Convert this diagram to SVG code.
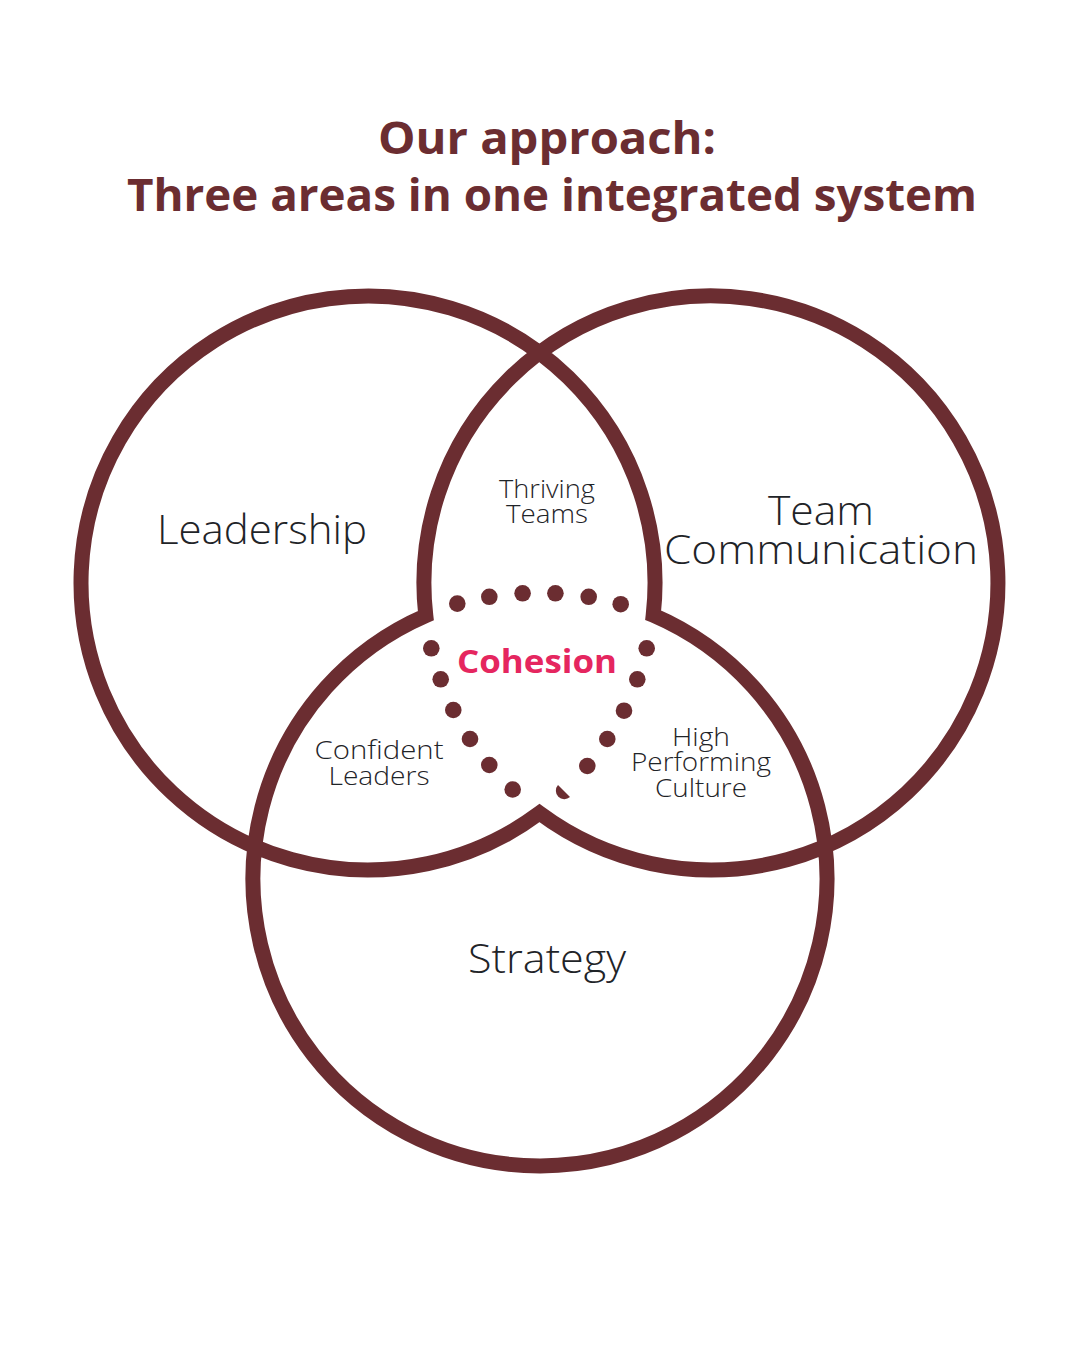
<svg xmlns="http://www.w3.org/2000/svg" width="1080" height="1350" viewBox="0 0 1080 1350">
  <style>
    .title { font-family: "Open Sans", "DejaVu Sans", sans-serif; font-weight: 700; font-size: 45px; fill: #6B2D31; }
    .big { font-family: "Open Sans", "DejaVu Sans", sans-serif; font-weight: 300; font-size: 40px; fill: #1F2428; }
    .small { font-family: "Open Sans", "DejaVu Sans", sans-serif; font-weight: 300; font-size: 26px; fill: #1F2428; }
    .core { font-family: "Open Sans", "DejaVu Sans", sans-serif; font-weight: 700; font-size: 33px; fill: #E5265F; }
    .ring { fill: none; stroke: #6B2D31; stroke-width: 15; stroke-linejoin: miter; }
    .dot { fill: #6B2D31; }
  </style>
  <rect width="1080" height="1350" fill="#FFFFFF"/>

  <g id="title">
    <text class="title" x="547" y="154" text-anchor="middle" textLength="338" lengthAdjust="spacingAndGlyphs">Our approach:</text>
    <text class="title" x="552" y="211" text-anchor="middle" textLength="850" lengthAdjust="spacingAndGlyphs">Three areas in one integrated system</text>
  </g>

  <g id="connectors">
    <path class="ring" d="M 539.5 813.1 A 287 287 0 1 1 653.2 615.2 A 287 287 0 1 1 425.8 615.6 A 287 287 0 1 1 539.5 813.1 Z"/>
  </g>

  <g id="node-leadership">
    <text class="big" x="262" y="544" text-anchor="middle" textLength="210" lengthAdjust="spacingAndGlyphs">Leadership</text>
  </g>
  <g id="node-team-communication">
    <text class="big" x="821" y="525" text-anchor="middle" textLength="106" lengthAdjust="spacingAndGlyphs">Team</text>
    <text class="big" x="821" y="564" text-anchor="middle" textLength="314" lengthAdjust="spacingAndGlyphs">Communication</text>
  </g>
  <g id="node-strategy">
    <text class="big" x="547" y="973" text-anchor="middle" textLength="158" lengthAdjust="spacingAndGlyphs">Strategy</text>
  </g>
  <g id="node-thriving-teams">
    <text class="small" x="547" y="498" text-anchor="middle" textLength="96" lengthAdjust="spacingAndGlyphs">Thriving</text>
    <text class="small" x="547" y="523" text-anchor="middle" textLength="82" lengthAdjust="spacingAndGlyphs">Teams</text>
  </g>
  <g id="node-confident-leaders">
    <text class="small" x="379" y="759" text-anchor="middle" textLength="129" lengthAdjust="spacingAndGlyphs">Confident</text>
    <text class="small" x="379" y="785" text-anchor="middle" textLength="101" lengthAdjust="spacingAndGlyphs">Leaders</text>
  </g>
  <g id="node-high-performing-culture">
    <text class="small" x="701" y="746" text-anchor="middle" textLength="58" lengthAdjust="spacingAndGlyphs">High</text>
    <text class="small" x="701" y="771" text-anchor="middle" textLength="140" lengthAdjust="spacingAndGlyphs">Performing</text>
    <text class="small" x="701" y="797" text-anchor="middle" textLength="92" lengthAdjust="spacingAndGlyphs">Culture</text>
  </g>
  <g id="node-cohesion">
    <circle class="dot" cx="457.3" cy="603.6" r="8.3"/>
    <circle class="dot" cx="489.3" cy="596.8" r="8.3"/>
    <circle class="dot" cx="522.6" cy="593.3" r="8.3"/>
    <circle class="dot" cx="555.4" cy="593.3" r="8.3"/>
    <circle class="dot" cx="588.7" cy="596.8" r="8.3"/>
    <circle class="dot" cx="620.7" cy="604.2" r="8.3"/>
    <circle class="dot" cx="431.3" cy="648.3" r="8.3"/>
    <circle class="dot" cx="440.7" cy="679.3" r="8.3"/>
    <circle class="dot" cx="453.3" cy="710.0" r="8.3"/>
    <circle class="dot" cx="470.0" cy="739.0" r="8.3"/>
    <circle class="dot" cx="489.3" cy="765.0" r="8.3"/>
    <circle class="dot" cx="512.7" cy="789.5" r="8.3"/>
    <circle class="dot" cx="646.7" cy="648.3" r="8.3"/>
    <circle class="dot" cx="637.3" cy="679.3" r="8.3"/>
    <circle class="dot" cx="624.0" cy="710.7" r="8.3"/>
    <circle class="dot" cx="607.3" cy="739.0" r="8.3"/>
    <circle class="dot" cx="587.3" cy="766.0" r="8.3"/>
    <path class="dot" d="M 558 785 A 8.5 8.5 0 0 0 570 797 Z"/>
    <text class="core" x="537" y="673" text-anchor="middle" textLength="160" lengthAdjust="spacingAndGlyphs">Cohesion</text>
  </g>
</svg>
